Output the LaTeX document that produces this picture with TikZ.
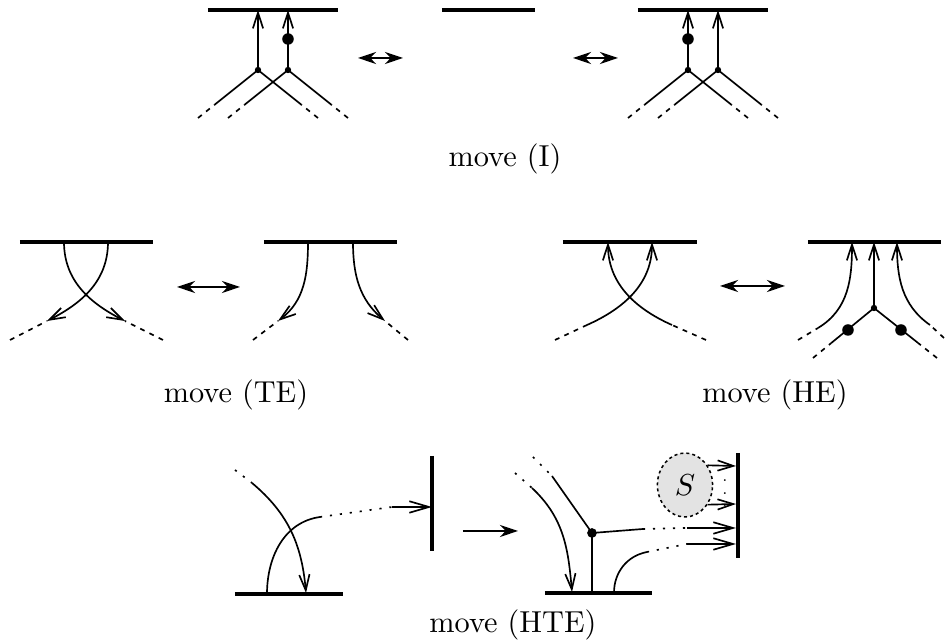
\documentclass[tikz,border=0pt]{standalone}
\usepackage{amsmath,amssymb}
\usetikzlibrary{arrows.meta,calc,shapes.geometric}
\tikzset{
  mv bar/.style={line width=1.2pt},
  mv strand/.style={line width=0.55pt},
  mv head/.style={mv strand,-{Straight Barb[length=5.2pt,width=3.4pt]}},
  mv longhead/.style={mv strand,-{Straight Barb[length=6.5pt,width=3.8pt]}},
  mv tail/.style={mv strand,dash pattern=on 1.6pt off 1.8pt},
  mv dots/.style={mv strand,dash pattern=on 0.7pt off 2.6pt},
  mv swap/.style={line width=0.6pt,{Stealth[length=6pt,width=4pt]}-{Stealth[length=6pt,width=4pt]}},
  mv step/.style={line width=0.6pt,-{Stealth[length=6pt,width=4pt]}},
  vtx/.style={circle,fill,inner sep=0pt,minimum size=2.1pt},
  bead/.style={circle,fill,inner sep=0pt,minimum size=3.8pt},
  blob/.style={ellipse,draw,fill=gray!22,line width=0.5pt,dash pattern=on 1pt off 1pt,
    inner sep=0pt,minimum width=18.2pt,minimum height=21.1pt},
  cap label/.style={anchor=base,font=\normalsize}
}
\begin{document}
\begin{tikzpicture}[x=0.33pt,y=0.33pt]
  \useasboundingbox (0,0) rectangle (946,641);

  % ---- move (I) ----
  \coordinate (Ia) at (208,631); \coordinate (Ib) at (338,631);
  \draw[mv bar] (Ia) -- (Ib);
  \node[vtx] (I1) at (258,571) {};
  \node[vtx] (I2) at (288,571) {};
  \coordinate (I1t) at (258,631); \coordinate (I2t) at (288,631);
  \draw[mv head] (I1.center) -- (I1t);
  \draw[mv head] (I2.center) -- (I2t);
  \node[bead] (Ibd) at (288,602) {};
  \coordinate (Ie1) at (198,523); \coordinate (Ie2) at (318,523);
  \coordinate (Ie3) at (228,523); \coordinate (Ie4) at (348,523);
  \foreach \v/\e in {I1/Ie1,I1/Ie2,I2/Ie3,I2/Ie4}{
    \draw[mv strand] (\v.center) -- ($(\v.center)!0.72!(\e)$);
    \draw[mv tail] (\e) -- ($(\v.center)!0.72!(\e)$);
  }

  \coordinate (Ic) at (442,631); \coordinate (Id) at (535,631);
  \draw[mv bar] (Ic) -- (Id);
  \coordinate (Is1) at (358,583); \coordinate (Is2) at (403,583);
  \coordinate (Is3) at (573,583); \coordinate (Is4) at (618,583);
  \draw[mv swap] (Is1) -- (Is2);
  \draw[mv swap] (Is3) -- (Is4);

  \coordinate (If) at (638,631); \coordinate (Ig) at (768,631);
  \draw[mv bar] (If) -- (Ig);
  \node[vtx] (I3) at (688,571) {};
  \node[vtx] (I4) at (718,571) {};
  \coordinate (I3t) at (688,631); \coordinate (I4t) at (718,631);
  \draw[mv head] (I3.center) -- (I3t);
  \draw[mv head] (I4.center) -- (I4t);
  \node[bead] (Ibd2) at (688,602) {};
  \coordinate (Ie5) at (628,523); \coordinate (Ie6) at (748,523);
  \coordinate (Ie7) at (658,523); \coordinate (Ie8) at (778,523);
  \foreach \v/\e in {I3/Ie5,I3/Ie6,I4/Ie7,I4/Ie8}{
    \draw[mv strand] (\v.center) -- ($(\v.center)!0.72!(\e)$);
    \draw[mv tail] (\e) -- ($(\v.center)!0.72!(\e)$);
  }
  \node[cap label] (capI) at (505,474) {move (I)};

  % ---- move (TE) ----
  \coordinate (Ta) at (20,399); \coordinate (Tb) at (153,399);
  \draw[mv bar] (Ta) -- (Tb);
  \coordinate (T1) at (64,399);  \coordinate (T1h) at (125,320); \coordinate (T1e) at (163,301);
  \coordinate (T2) at (108,399); \coordinate (T2h) at (47,320);  \coordinate (T2e) at (10,301);
  \draw[mv head] (T1) to[out=-90,in=153] (T1h);
  \draw[mv head] (T2) to[out=-90,in=27] (T2h);
  \draw[mv tail] (T1e) -- (T1h);
  \draw[mv tail] (T2e) -- (T2h);

  \coordinate (Ts1) at (177,354); \coordinate (Ts2) at (240,354);
  \draw[mv swap] (Ts1) -- (Ts2);

  \coordinate (Tc) at (264,399); \coordinate (Td) at (397,399);
  \draw[mv bar] (Tc) -- (Td);
  \coordinate (T3) at (308,399); \coordinate (T3h) at (278,320); \coordinate (T3e) at (253,301);
  \coordinate (T4) at (353,399); \coordinate (T4h) at (385,320); \coordinate (T4e) at (408,301);
  \draw[mv head] (T3) to[out=-90,in=37] (T3h);
  \draw[mv head] (T4) to[out=-90,in=140] (T4h);
  \draw[mv tail] (T3e) -- (T3h);
  \draw[mv tail] (T4e) -- (T4h);
  \node[cap label] (capTE) at (236,238) {move (TE)};

  % ---- move (HE) ----
  \coordinate (Ha) at (563,399); \coordinate (Hb) at (697,399);
  \draw[mv bar] (Ha) -- (Hb);
  \coordinate (H1) at (672,316); \coordinate (H1e) at (706,301); \coordinate (H1t) at (608,399);
  \coordinate (H2) at (587,316); \coordinate (H2e) at (555,301); \coordinate (H2t) at (652,399);
  \draw[mv head] (H1) to[out=156,in=-90] (H1t);
  \draw[mv head] (H2) to[out=24,in=-90] (H2t);
  \draw[mv tail] (H1e) -- (H1);
  \draw[mv tail] (H2e) -- (H2);

  \coordinate (Hs1) at (720,355); \coordinate (Hs2) at (785,355);
  \draw[mv swap] (Hs1) -- (Hs2);

  \coordinate (Hc) at (808,399); \coordinate (Hd) at (941,399);
  \draw[mv bar] (Hc) -- (Hd);
  \node[vtx] (Hv) at (874,333) {};
  \coordinate (Hvt) at (874,399);
  \draw[mv head] (Hv.center) -- (Hvt);
  \coordinate (He1) at (813,283); \coordinate (He2) at (937,283);
  \foreach \e in {He1,He2}{
    \draw[mv strand] (Hv.center) -- ($(Hv.center)!0.7!(\e)$);
    \draw[mv tail] (\e) -- ($(Hv.center)!0.7!(\e)$);
  }
  \node[bead] (Hbd1) at (848,311) {};
  \node[bead] (Hbd2) at (901,311) {};
  \coordinate (H3) at (818,313); \coordinate (H3e) at (798,301); \coordinate (H3t) at (852,399);
  \coordinate (H4) at (930,316); \coordinate (H4e) at (944,303); \coordinate (H4t) at (897,399);
  \draw[mv head] (H3) to[out=31,in=-90] (H3t);
  \draw[mv head] (H4) to[out=145,in=-90] (H4t);
  \draw[mv tail] (H3e) -- (H3);
  \draw[mv tail] (H4e) -- (H4);
  \node[cap label] (capHE) at (775,238) {move (HE)};

  % ---- move (HTE) ----
  \coordinate (Xa) at (235,47); \coordinate (Xb) at (343,47);
  \draw[mv bar] (Xa) -- (Xb);
  \coordinate (Xv1) at (432,185); \coordinate (Xv2) at (432,90);
  \draw[mv bar] (Xv1) -- (Xv2);
  \coordinate (X1e) at (235,171); \coordinate (X1) at (252,158); \coordinate (X1t) at (306,48);
  \draw[mv dots] (X1e) -- (X1);
  \draw[mv head] (X1) to[out=-40,in=95] (X1t);
  \coordinate (X2) at (267,47); \coordinate (X2m) at (320,124);
  \coordinate (X2n) at (392,134); \coordinate (X2t) at (432,134);
  \draw[mv strand] (X2) to[out=90,in=188] (X2m);
  \draw[mv dots] (X2m) -- (X2n);
  \draw[mv longhead] (X2n) -- (X2t);

  \coordinate (Xs1) at (463,110); \coordinate (Xs2) at (518,110);
  \draw[mv step] (Xs1) -- (Xs2);

  \coordinate (Xc) at (545,48); \coordinate (Xd) at (652,48);
  \draw[mv bar] (Xc) -- (Xd);
  \coordinate (Xv3) at (738,188); \coordinate (Xv4) at (738,83);
  \draw[mv bar] (Xv3) -- (Xv4);
  \node[vtx,minimum size=3.2pt] (Xn) at (592,108) {};
  \coordinate (Xnb) at (592,48);
  \draw[mv strand] (Xn.center) -- (Xnb);
  \coordinate (Xu) at (552,165); \coordinate (Xue) at (533,184);
  \draw[mv strand] (Xn.center) -- (Xu);
  \draw[mv dots] (Xue) -- (Xu);
  \coordinate (Xr) at (643,112); \coordinate (Xrn) at (687,113); \coordinate (Xrt) at (736,113);
  \draw[mv strand] (Xn.center) -- (Xr);
  \draw[mv dots] (Xr) -- (Xrn);
  \draw[mv longhead] (Xrn) -- (Xrt);
  \coordinate (X3e) at (515,168); \coordinate (X3) at (532,153); \coordinate (X3t) at (572,49);
  \draw[mv dots] (X3e) -- (X3);
  \draw[mv head] (X3) to[out=-43,in=95] (X3t);
  \coordinate (X4) at (614,48); \coordinate (X4m) at (647,89);
  \coordinate (X4n) at (687,97); \coordinate (X4t) at (736,97);
  \draw[mv strand] (X4) to[out=90,in=191] (X4m);
  \draw[mv dots] (X4m) -- (X4n);
  \draw[mv longhead] (X4n) -- (X4t);
  \node[blob] (S) at (685,156) {$S$};
  \coordinate (Sa) at (736,175); \coordinate (Sb) at (736,137);
  \draw[mv head] (S.41) -- (Sa);
  \draw[mv head] (S.-41) -- (Sb);
  \node[font=\tiny,inner sep=0pt] (Sd) at (725,157) {$\vdots$};
  \node[cap label] (capHTE) at (513,8) {move (HTE)};
\end{tikzpicture}
\end{document}
